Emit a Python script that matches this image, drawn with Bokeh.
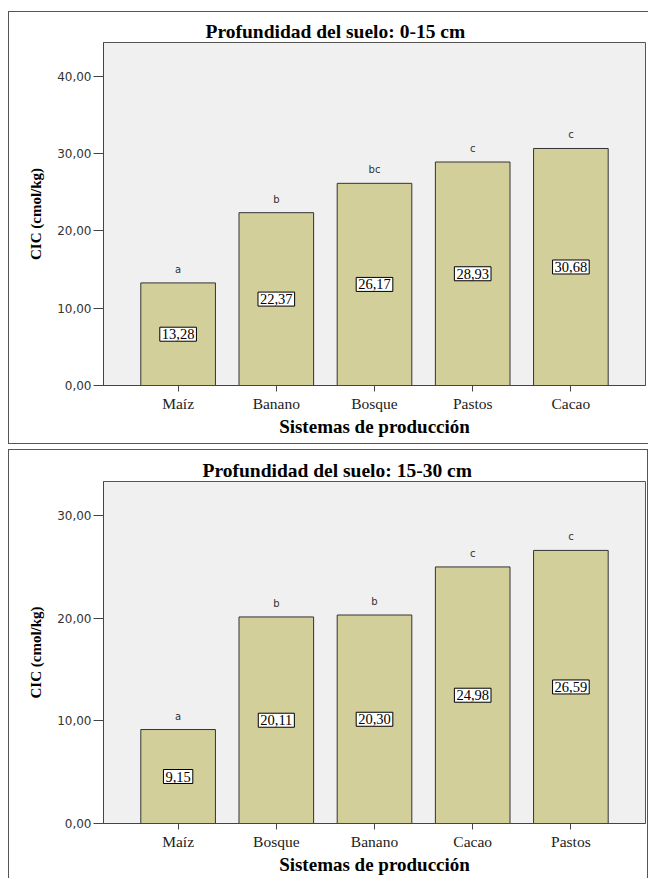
from bokeh.plotting import figure
from bokeh.models import FactorRange, Range1d, FixedTicker, ColumnDataSource
from bokeh.layouts import column
from bokeh.embed import file_html
from bokeh.resources import INLINE
from bokeh.core.properties import value

# ---------------- data ----------------
top_title = "Profundidad del suelo: 0-15 cm"
top_systems = ["Maíz", "Banano", "Bosque", "Pastos", "Cacao"]
top_values = [13.28, 22.37, 26.17, 28.93, 30.68]
top_letters = ["a", "b", "bc", "c", "c"]
top_yticks = [0, 10, 20, 30, 40]
top_ymax = 44.4

bottom_title = "Profundidad del suelo: 15-30 cm"
bottom_systems = ["Maíz", "Bosque", "Banano", "Cacao", "Pastos"]
bottom_values = [9.15, 20.11, 20.30, 24.98, 26.59]
bottom_letters = ["a", "b", "b", "c", "c"]
bottom_yticks = [0, 10, 20, 30]
bottom_ymax = 33.3

y_label = "CIC (cmol/kg)"
x_label = "Sistemas de producción"

BAR_FILL = "#d3cf9b"
BAR_LINE = "#333333"
PLOT_BG = "#f0f0f0"
SERIF = "Liberation Serif"
SANS = "DejaVu Sans"


def fmt(v):
    return f"{v:.2f}".replace(".", ",")


def make_panel(title, systems, values, letters, yticks, ymax, width, height,
               mb_top, mb_bottom, mb_right, title_offset, styles, margin):
    src = ColumnDataSource(dict(
        sys=systems,
        val=values,
        mid=[v / 2 for v in values],
        lab=[fmt(v) for v in values],
        let=letters,
    ))
    p = figure(
        x_range=FactorRange(factors=systems, range_padding=0.26,
                            range_padding_units="absolute"),
        y_range=Range1d(0, ymax),
        width=width, height=height,
        output_backend="svg", toolbar_location=None,
        min_border_left=94, min_border_right=mb_right,
        min_border_top=mb_top, min_border_bottom=mb_bottom,
        background_fill_color=PLOT_BG, border_fill_color="white",
        styles=styles, margin=margin,
    )
    p.outline_line_color = "#555555"
    p.outline_line_width = 1
    p.grid.visible = False

    p.vbar(x="sys", top="val", width=0.76, source=src,
           fill_color=BAR_FILL, line_color=BAR_LINE, line_width=1)

    p.text(x="sys", y="mid", text="lab", source=src,
           text_align="center", text_baseline="middle",
           text_font=value(SERIF), text_font_size="14.5px", text_color="#000000",
           background_fill_color="white", border_line_color="black",
           border_line_width=1, padding=2)

    p.text(x="sys", y="val", text="let", source=src, y_offset=-8,
           text_align="center", text_baseline="bottom",
           text_font=value(SANS), text_font_size="10px", text_color="#333333")

    # title
    p.title.text = title
    p.title.align = "left"
    p.title.offset = title_offset
    p.title.text_font = SERIF
    p.title.text_font_style = "bold"
    p.title.text_font_size = "19.5px"
    p.title.text_color = "#000000"
    p.title.standoff = 2

    # y axis
    ya = p.yaxis[0]
    ya.ticker = FixedTicker(ticks=yticks)
    ya.major_label_overrides = {t: fmt(t) for t in yticks}
    ya.major_label_text_font = SANS
    ya.major_label_text_font_size = "12px"
    ya.major_label_text_color = "#333333"
    ya.major_tick_out = 10
    ya.major_tick_in = 0
    ya.minor_tick_line_color = None
    ya.major_label_standoff = 2
    ya.axis_line_color = "#444444"
    ya.major_tick_line_color = "#444444"
    ya.axis_label = y_label
    ya.axis_label_text_font = SERIF
    ya.axis_label_text_font_style = "bold"
    ya.axis_label_text_font_size = "15px"
    ya.axis_label_text_color = "#000000"
    ya.axis_label_standoff = 10

    # x axis
    xa = p.xaxis[0]
    xa.major_label_text_font = SERIF
    xa.major_label_text_font_size = "15.5px"
    xa.major_label_text_color = "#222222"
    xa.major_tick_out = 6
    xa.major_tick_in = 0
    xa.major_label_standoff = 3
    xa.axis_line_color = "#444444"
    xa.major_tick_line_color = "#444444"
    xa.axis_label = x_label
    xa.axis_label_text_font = SERIF
    xa.axis_label_text_font_style = "bold"
    xa.axis_label_text_font_size = "19px"
    xa.axis_label_text_color = "#000000"
    xa.axis_label_standoff = 1
    return p


top = make_panel(top_title, top_systems, top_values, top_letters, top_yticks,
                 top_ymax, width=640, height=433, mb_top=30, mb_bottom=60,
                 mb_right=0, title_offset=102,
                 styles={"border-left": "1px solid #555", "border-top": "1px solid #555",
                         "border-bottom": "1px solid #555"},
                 margin=(11, 0, 0, 8))

bottom = make_panel(bottom_title, bottom_systems, bottom_values, bottom_letters,
                    bottom_yticks, bottom_ymax, width=640, height=429, mb_top=31,
                    mb_bottom=56, mb_right=4, title_offset=99,
                    styles={"border-left": "1px solid #555", "border-top": "1px solid #555",
                            "border-right": "1px solid #555"},
                    margin=(5, 0, 0, 8))

layout = column(top, bottom, spacing=0)
open("out.html", "w").write(file_html(layout, INLINE))
